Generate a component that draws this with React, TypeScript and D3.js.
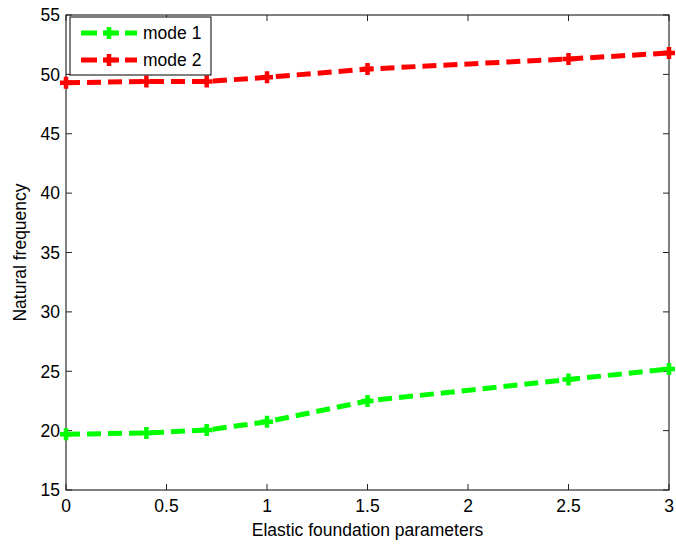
import React from 'react';
import * as d3 from 'd3';

// values
const params = [0, 0.4, 0.7, 1, 1.5, 2.5, 3];
const mode1 = [19.7, 19.8, 20.05, 20.75, 22.5, 24.3, 25.2];
const mode2 = [49.3, 49.4, 49.4, 49.75, 50.45, 51.3, 51.8];
const xTicks = [0, 0.5, 1, 1.5, 2, 2.5, 3];
const yTicks = [15, 20, 25, 30, 35, 40, 45, 50, 55];
const seriesNames = ['mode 1', 'mode 2'];
const seriesColors = ['#00ff00', '#ff0000'];

const W = 676;
const H = 544;
const FONT = 'Arial, "Liberation Sans", sans-serif';
const FS = 17.5;

const Plus = ({ x, y, color }: { x: number; y: number; color: string }) => (
    <path
        d={`M${x - 6},${y}H${x + 6}M${x},${y - 6}V${y + 6}`}
        stroke={color}
        strokeWidth={4.5}
        fill="none"
    />
);

const App = () => {
    const left = 66, right = 669, top = 15, bottom = 490;
    const x = d3.scaleLinear().domain([0, 3]).range([left, right]);
    const y = d3.scaleLinear().domain([15, 55]).range([bottom, top]);

    const line = d3.line<number>()
        .x((d, i) => x(params[i]))
        .y(d => y(d))
        .curve(d3.curveLinear);

    const series = [mode1, mode2];
    const tick = 6;

    return (
        <svg width={W} height={H} style={{ position: 'absolute', left: 0, top: 0, background: '#fff' }}
            fontFamily={FONT} fontSize={FS}>
            <rect x={0} y={0} width={W} height={H} fill="#fff" />
            {/* axes box */}
            <rect x={left} y={top} width={right - left} height={bottom - top} fill="#fff" stroke="#000" strokeWidth={1} />

            {xTicks.map(t => (
                <g key={'x' + t}>
                    <line x1={x(t)} x2={x(t)} y1={bottom} y2={bottom - tick} stroke="#222" />
                    <line x1={x(t)} x2={x(t)} y1={top} y2={top + tick} stroke="#222" />
                    <text x={x(t)} y={512} textAnchor="middle" fill="#000">{t}</text>
                </g>
            ))}
            {yTicks.map(t => (
                <g key={'y' + t}>
                    <line x1={left} x2={left + tick} y1={y(t)} y2={y(t)} stroke="#222" />
                    <line x1={right} x2={right - tick} y1={y(t)} y2={y(t)} stroke="#222" />
                    <text x={60} y={y(t)} dy="0.36em" textAnchor="end" fill="#000">{t}</text>
                </g>
            ))}

            {series.map((s, k) => (
                <g key={'s' + k}>
                    <path d={line(s) || ''} fill="none" stroke={seriesColors[k]} strokeWidth={5}
                        strokeDasharray="14,7" />
                    {s.map((v, i) => (
                        <Plus key={i} x={x(params[i])} y={y(v)} color={seriesColors[k]} />
                    ))}
                </g>
            ))}

            <text x={(left + right) / 2} y={536} textAnchor="middle" fill="#000">Elastic foundation parameters</text>
            <text transform={`translate(26,${(top + bottom) / 2}) rotate(-90)`} textAnchor="middle" fill="#000">
                Natural frequency
            </text>

            {/* legend */}
            <rect x={70} y={17} width={141} height={58} fill="#fff" stroke="#000" strokeWidth={1} />
            {seriesNames.map((n, k) => {
                const ly = 33 + k * 27;
                return (
                    <g key={n}>
                        <line x1={81} x2={137} y1={ly} y2={ly} stroke={seriesColors[k]} strokeWidth={5}
                            strokeDasharray="16,6" />
                        <Plus x={109} y={ly} color={seriesColors[k]} />
                        <text x={143} y={ly} dy="0.36em" fill="#000">{n}</text>
                    </g>
                );
            })}
        </svg>
    );
};

export default App;
